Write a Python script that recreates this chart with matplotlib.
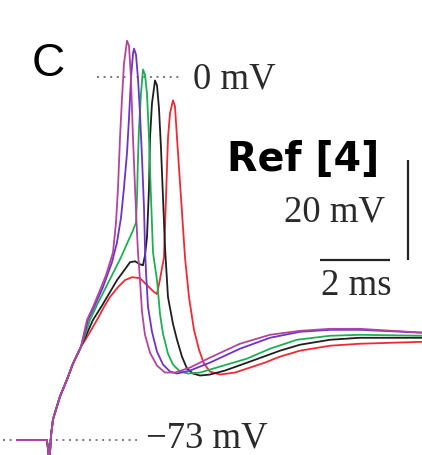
import matplotlib
matplotlib.use("Agg")
import matplotlib.pyplot as plt

# Shared resting baseline, stimulus artefact and early depolarisation (ms, mV)
common_t = [-0.94, -0.09, -0.06, -0.03, 0.0, 0.03, 0.086, 0.286, 0.486, 0.657, 0.886]
common_v = [-73.0, -73.0, -74.5, -76.5, -75.5, -72.0, -68.8, -64.2, -60.8, -57.6, -54.2]

red_t = [1.114, 1.343, 1.543, 1.714, 1.943, 2.143, 2.343, 2.571, 2.771, 2.943, 3.057,
         3.143, 3.257, 3.314, 3.371, 3.429, 3.514, 3.571, 3.629, 3.743, 3.857, 3.971,
         4.114, 4.257, 4.4, 4.571, 4.857, 5.286, 5.629, 6.143, 6.571, 7.143, 8.0,
         8.857, 10.7]
red_v = [-51.6, -48.8, -46.2, -44.2, -42.2, -40.8, -40.2, -40.4, -41.8, -43.0, -43.6,
         -40.6, -36.2, -24.2, -12.2, -7.2, -4.6, -5.8, -12.2, -24.2, -36.2, -44.2,
         -50.8, -54.8, -57.6, -59.2, -59.8, -59.4, -58.6, -57.4, -56.2, -55.0, -54.0,
         -53.6, -53.2]

black_t = [1.229, 1.514, 1.914, 2.143, 2.286, 2.429, 2.571, 2.657, 2.714, 2.771, 2.829,
           2.857, 2.914, 3.0, 3.057, 3.114, 3.171, 3.229, 3.286, 3.371, 3.514, 3.629,
           3.771, 3.914, 4.086, 4.286, 4.571, 5.0, 5.714, 6.571, 7.143, 8.0, 8.857, 10.7]
black_v = [-48.8, -45.6, -40.8, -38.6, -37.2, -37.0, -37.6, -37.8, -35.8, -32.2, -22.2,
           -12.2, -5.2, -0.6, -1.6, -6.2, -14.2, -24.2, -34.2, -44.2, -49.6, -52.8,
           -56.2, -58.6, -59.6, -60.0, -59.8, -59.0, -57.2, -55.0, -53.8, -52.8, -52.4,
           -52.4]

green_t = [1.143, 1.371, 1.6, 1.829, 2.029, 2.229, 2.371, 2.457, 2.486, 2.514, 2.543,
           2.6, 2.657, 2.714, 2.771, 2.829, 2.886, 2.943, 3.057, 3.143, 3.229, 3.371,
           3.514, 3.714, 3.943, 4.286, 4.857, 5.629, 6.286, 7.057, 8.0, 8.857, 10.7]
green_v = [-48.8, -45.4, -42.2, -39.0, -36.2, -33.0, -30.8, -29.2, -24.2, -16.2, -10.2,
           -3.2, 1.6, 0.6, -3.2, -12.2, -24.2, -35.2, -40.8, -47.6, -51.6, -55.6,
           -57.8, -59.2, -59.6, -59.4, -58.2, -56.6, -54.6, -52.8, -52.0, -51.8, -52.0]

purple_t = [1.086, 1.286, 1.514, 1.771, 1.914, 2.029, 2.114, 2.2, 2.257, 2.314, 2.371,
            2.4, 2.457, 2.514, 2.571, 2.629, 2.686, 2.714, 2.743, 2.8, 2.914, 3.057,
            3.229, 3.429, 3.629, 4.0, 4.571, 5.429, 6.286, 7.143, 8.0, 8.857, 10.7]
purple_v = [-48.8, -45.8, -42.2, -37.2, -33.2, -28.2, -22.2, -15.2, -8.2, -0.2, 4.8,
            5.8, 4.6, -0.2, -7.2, -16.2, -26.2, -34.2, -39.2, -46.2, -51.2, -55.2,
            -57.8, -59.2, -59.6, -59.0, -57.4, -54.6, -52.4, -51.2, -50.8, -50.8, -51.4]

magenta_t = [1.057, 1.229, 1.429, 1.6, 1.714, 1.8, 1.886, 1.943, 2.0, 2.057, 2.114,
             2.2, 2.257, 2.314, 2.371, 2.429, 2.486, 2.514, 2.571, 2.629, 2.714, 2.857,
             3.057, 3.286, 3.571, 4.0, 4.571, 5.429, 6.286, 7.143, 8.0, 8.857, 10.7]
magenta_v = [-48.8, -46.2, -42.8, -39.8, -37.2, -35.2, -29.2, -22.2, -12.2, -4.2, 2.8,
             7.4, 6.4, -0.2, -12.2, -22.2, -31.2, -35.2, -40.8, -47.2, -51.8, -55.4,
             -58.0, -59.4, -59.4, -58.4, -56.4, -53.6, -51.8, -51.0, -50.6, -50.6, -51.4]

traces = [
    (red_t, red_v, "#ee2a35"),
    (black_t, black_v, "#1e1e1e"),
    (green_t, green_v, "#1fae55"),
    (purple_t, purple_v, "#6a35c8"),
    (magenta_t, magenta_v, "#b2459c"),
]

rest_mv = -73
peak_ref_mv = 0
bar_mv = 20
bar_ms = 2

fig = plt.figure(figsize=(4.22, 4.56), dpi=100)
ax = fig.add_axes([0, 0, 1, 1])
ax.set_xlim(-1.4286, 10.629)
ax.set_ylim(-76.0, 15.8)
ax.axis("off")

# Reference levels
ax.plot([1.343, 3.714], [peak_ref_mv, peak_ref_mv], color="#777777", lw=1.4,
        linestyle=(0, (1, 2.4)), dash_capstyle="butt")
ax.plot([-1.343, 2.486], [rest_mv, rest_mv], color="#777777", lw=1.4,
        linestyle=(0, (1, 2.4)), dash_capstyle="butt")

for t, v, c in traces:
    ax.plot(common_t + t, common_v + v, color=c, lw=1.3, solid_joinstyle="round")

serif = "Liberation Serif"
txt_color = "#2a2a2a"
ax.text(4.086, -2.0, "0 mV", family=serif, fontsize=26.5, color=txt_color,
        ha="left", va="baseline")
ax.text(2.743, -74.2, "\u221273 mV", family=serif, fontsize=26.5, color=txt_color,
        ha="left", va="baseline")
ax.text(9.571, -28.8, "20 mV", family=serif, fontsize=26.5, color=txt_color,
        ha="right", va="baseline")
ax.text(7.743, -43.6, "2 ms", family=serif, fontsize=26.5, color=txt_color,
        ha="left", va="baseline")
ax.text(5.057, -18.6, "Ref [4]", family="DejaVu Sans", fontweight="bold",
        fontsize=28.5, color="black", ha="left", va="baseline")
ax.text(-0.514, 0.6, "C", family="Liberation Sans", fontsize=33, color="black",
        ha="left", va="baseline")

# Scale bars
ax.plot([10.229, 10.229], [-16.7, -16.7 - bar_mv], color="#222222", lw=1.6,
        solid_capstyle="butt")
ax.plot([7.714, 7.714 + bar_ms], [-36.8, -36.8], color="#222222", lw=1.6,
        solid_capstyle="butt")

fig.savefig("out.png", dpi=100)
